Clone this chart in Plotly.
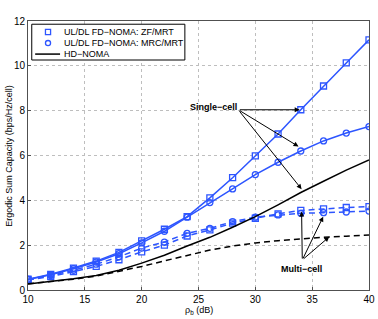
import plotly.graph_objects as go

snr_db = [10, 12, 14, 16, 18, 20, 22, 24, 26, 28, 30, 32, 34, 36, 38, 40]

zf_single = [0.48, 0.70, 0.98, 1.29, 1.68, 2.19, 2.71, 3.27, 4.11, 5.01, 5.98, 6.96, 8.04, 9.10, 10.13, 11.16]
mrc_single = [0.47, 0.68, 0.95, 1.25, 1.62, 2.10, 2.62, 3.25, 3.90, 4.51, 5.15, 5.70, 6.20, 6.65, 7.00, 7.29]
zf_multi = [0.45, 0.60, 0.82, 1.05, 1.35, 1.70, 2.00, 2.41, 2.68, 2.98, 3.20, 3.40, 3.55, 3.62, 3.68, 3.72]
mrc_multi = [0.47, 0.65, 0.88, 1.15, 1.48, 1.87, 2.14, 2.53, 2.75, 3.05, 3.25, 3.35, 3.42, 3.45, 3.48, 3.52]
hd_single = [0.27, 0.38, 0.50, 0.65, 0.88, 1.20, 1.55, 1.96, 2.35, 2.80, 3.27, 3.80, 4.35, 4.85, 5.35, 5.80]
hd_multi = [0.28, 0.37, 0.48, 0.62, 0.82, 1.05, 1.30, 1.55, 1.78, 1.96, 2.10, 2.20, 2.28, 2.35, 2.40, 2.45]

x_ticks = [10, 15, 20, 25, 30, 35, 40]
y_ticks = [0, 2, 4, 6, 8, 10, 12]
legend_labels = ["UL/DL FD\u2212NOMA: ZF/MRT", "UL/DL FD\u2212NOMA: MRC/MRT", "HD\u2212NOMA"]

BLUE = "rgb(45,85,255)"
FONT = "Liberation Sans, Arial, sans-serif"
DASH = "6px,4px"

fig = go.Figure()

def blue(y, symbol, dash):
    fig.add_trace(go.Scatter(
        x=snr_db, y=y, mode="lines+markers", showlegend=False,
        line=dict(color=BLUE, width=1.5, dash=dash),
        marker=dict(symbol=symbol, size=6, color=BLUE, line=dict(color=BLUE, width=1.3))))

blue(zf_single, "square-open", "solid")
blue(mrc_single, "circle-open", "solid")
blue(zf_multi, "square-open", DASH)
blue(mrc_multi, "circle-open", DASH)

fig.add_trace(go.Scatter(x=snr_db, y=hd_single, mode="lines", showlegend=False,
                         line=dict(color="black", width=1.5)))
fig.add_trace(go.Scatter(x=snr_db, y=hd_multi, mode="lines", showlegend=False,
                         line=dict(color="black", width=1.5, dash=DASH)))

# manual legend (paper coordinates)
fig.add_shape(type="rect", xref="paper", yref="paper", x0=0.011, x1=0.460, y0=0.855, y1=0.988,
              line=dict(color="black", width=1), fillcolor="white", layer="above")
row_y = [0.959, 0.918, 0.877]
mx, dx, dy = 0.0587, 0.0075, 0.0095
fig.add_shape(type="rect", xref="paper", yref="paper", x0=mx - dx, x1=mx + dx,
              y0=row_y[0] - dy, y1=row_y[0] + dy, line=dict(color=BLUE, width=1.3), layer="above")
fig.add_shape(type="circle", xref="paper", yref="paper", x0=mx - dx, x1=mx + dx,
              y0=row_y[1] - dy, y1=row_y[1] + dy, line=dict(color=BLUE, width=1.3), layer="above")
fig.add_shape(type="line", xref="paper", yref="paper", x0=0.021, x1=0.094,
              y0=row_y[2], y1=row_y[2], line=dict(color="black", width=1.5), layer="above")
for lbl, ry in zip(legend_labels, row_y):
    fig.add_annotation(x=0.1, y=ry, xref="paper", yref="paper", xanchor="left", yanchor="middle",
                       text=lbl, showarrow=False, font=dict(size=9, family=FONT, color="black"))

# annotations
fig.add_annotation(x=26.3, y=8.17, text="<b>Single\u2212cell</b>", showarrow=False,
                   font=dict(size=9, color="black", family=FONT))
for tx, ty in [(33.9, 8.04), (33.8, 6.4), (34.07, 4.5)]:
    fig.add_annotation(x=tx, y=ty, ax=28.5, ay=8.04, xref="x", yref="y", axref="x", ayref="y",
                       text="", showarrow=True, arrowhead=2, arrowsize=1, arrowwidth=1, arrowcolor="black")
fig.add_annotation(x=34.1, y=0.95, text="<b>Multi\u2212cell</b>", showarrow=False,
                   font=dict(size=9, color="black", family=FONT))
for tx, ty in [(34.07, 3.5), (35.97, 3.27), (36.5, 2.37)]:
    fig.add_annotation(x=tx, y=ty, ax=34.13, ay=1.34, xref="x", yref="y", axref="x", ayref="y",
                       text="", showarrow=True, arrowhead=2, arrowsize=1, arrowwidth=1, arrowcolor="black")

# axis titles
fig.add_annotation(x=0.5, y=-0.078, xref="paper", yref="paper", xanchor="center", yanchor="middle",
                   text="\u03c1<sub>b</sub> (dB)", showarrow=False,
                   font=dict(size=9, family=FONT, color="black"))
fig.add_annotation(x=-0.058, y=0.5, xref="paper", yref="paper", xanchor="center", yanchor="middle",
                   text="Ergodic Sum Capacity (bps/Hz/cell)", showarrow=False, textangle=-90,
                   font=dict(size=9, family=FONT, color="black"))

axis_common = dict(showgrid=True, gridcolor="rgb(190,190,190)", griddash="dot", gridwidth=1,
                   showline=True, linecolor="rgb(80,80,80)", linewidth=1, mirror=True,
                   ticks="inside", ticklen=3, tickcolor="rgb(80,80,80)", zeroline=False,
                   automargin=False,
                   tickfont=dict(size=10, color="black", family=FONT))

fig.update_xaxes(range=[10, 40], tickvals=x_ticks, **axis_common)
fig.update_yaxes(range=[0, 12], tickvals=y_ticks, **axis_common)

fig.update_layout(
    width=378, height=319,
    margin=dict(l=28, r=9, t=21, b=29),
    plot_bgcolor="white", paper_bgcolor="white",
    font=dict(family=FONT, color="black"),
    showlegend=False,
)

fig.write_html("out.html", config={"displayModeBar": False},
               post_script="document.body.style.margin='0';")
